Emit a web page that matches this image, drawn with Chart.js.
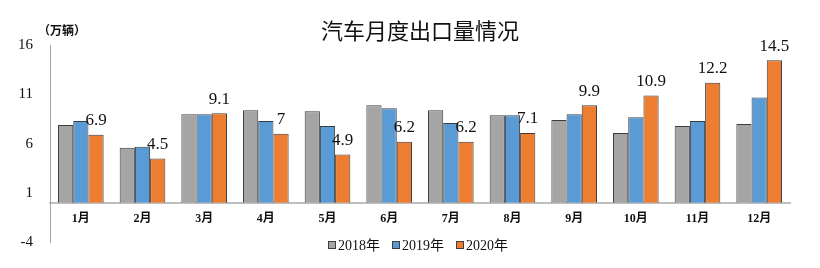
<!DOCTYPE html>
<html>
<head>
<meta charset="utf-8">
<script src="https://cdn.jsdelivr.net/npm/chart.js@4.4.0/dist/chart.umd.min.js"></script>
<style>
  html, body { margin: 0; padding: 0; background: #fff; }
</style>
</head>
<body>
<canvas id="myChart" width="820" height="268"></canvas>
<script>
// data (万辆)
const months = ["1月", "2月", "3月", "4月", "5月", "6月", "7月", "8月", "9月", "10月", "11月", "12月"];
const years = ["2018年", "2019年", "2020年"];
const export2018 = [7.9, 5.6, 9.0, 9.4, 9.3, 9.9, 9.4, 8.9, 8.4, 7.1, 7.8, 8.0];
const export2019 = [8.3, 5.7, 9.0, 8.3, 7.8, 9.6, 8.1, 8.9, 9.0, 8.7, 8.3, 10.7];
const export2020 = [6.9, 4.5, 9.1, 7, 4.9, 6.2, 6.2, 7.1, 9.9, 10.9, 12.2, 14.5];
const yTicks = [-4, 1, 6, 11, 16];

const serif = '"Liberation Serif", "Noto Sans CJK SC", serif';

// value labels on the 2020 bars
const valueLabels = {
  id: "valueLabels",
  afterDatasetsDraw(chart) {
    const ctx = chart.ctx;
    const meta = chart.getDatasetMeta(2);
    ctx.save();
    ctx.font = "17px " + serif;
    ctx.fillStyle = "#111";
    ctx.textAlign = "center";
    ctx.textBaseline = "middle";
    meta.data.forEach(function (bar, i) {
      ctx.fillText(String(export2020[i]), bar.x, bar.y - 14);
    });
    ctx.restore();
  }
};

// unit text + legend under the plot
const extras = {
  id: "extras",
  afterDraw(chart) {
    const ctx = chart.ctx;
    ctx.save();
    ctx.fillStyle = "#111";
    ctx.font = 'bold 12px "Noto Sans CJK SC"';
    ctx.textAlign = "left";
    ctx.textBaseline = "middle";
    ctx.fillText("（万辆）", 38, 30);

    ctx.font = "14px " + serif;
    const box = 8, gap = 2, space = 12;
    const items = chart.data.datasets.map(function (ds) {
      return { text: ds.label, color: ds.backgroundColor, w: box + gap + ctx.measureText(ds.label).width };
    });
    const total = items.reduce(function (s, it) { return s + it.w; }, 0) + space * (items.length - 1);
    let x = 418 - total / 2;
    const y = 245;
    items.forEach(function (it) {
      ctx.fillStyle = it.color;
      ctx.fillRect(x, y - box / 2, box, box);
      ctx.strokeStyle = "#404040";
      ctx.lineWidth = 1;
      ctx.strokeRect(x + 0.5, y - box / 2 + 0.5, box - 1, box - 1);
      ctx.fillStyle = "#111";
      ctx.fillText(it.text, x + box + gap, y + 1);
      x += it.w + space;
    });
    ctx.restore();
  }
};

const ctx = document.getElementById("myChart");
const myChart = new Chart(ctx, {
  type: "bar",
  data: {
    labels: months,
    datasets: [
      {
        label: years[0],
        data: export2018,
        backgroundColor: "#A5A5A5",
        borderColor: "#3d3d3d",
        borderWidth: 1,
      },
      {
        label: years[1],
        data: export2019,
        backgroundColor: "#5B9BD5",
        borderColor: "#3d3d3d",
        borderWidth: 1,
      },
      {
        label: years[2],
        data: export2020,
        backgroundColor: "#ED7D31",
        borderColor: "#3d3d3d",
        borderWidth: 1,
      },
    ],
  },
  plugins: [valueLabels, extras],
  options: {
    responsive: false,
    animation: false,
    categoryPercentage: 0.74,
    barPercentage: 1.0,
    layout: {
      padding: { left: 10, right: 30, top: 0, bottom: 24 }
    },
    plugins: {
      legend: { display: false },
      tooltip: { enabled: false },
      title: {
        display: true,
        fullSize: false,
        text: "汽车月度出口量情况",
        color: "#111",
        font: { family: '"Noto Sans CJK SC"', size: 22, weight: "normal" },
        padding: { top: 17, bottom: 2 }
      }
    },
    scales: {
      x: {
        position: { y: 0 },
        grid: { display: false, drawTicks: false },
        border: { display: true, color: "#BFBFBF", width: 2 },
        ticks: {
          color: "#111",
          padding: 9,
          font: { family: serif, size: 12, weight: "bold" }
        }
      },
      y: {
        min: -4,
        max: 16,
        afterBuildTicks: function (scale) {
          scale.ticks = yTicks.map(function (v) { return { value: v }; });
        },
        afterFit: function (scale) {
          scale.width = 40;
        },
        grid: { display: false, drawTicks: false },
        border: { display: true, color: "#A6A6A6", width: 1 },
        ticks: {
          color: "#111",
          padding: 17,
          font: { family: serif, size: 15 }
        }
      }
    }
  }
});
</script>
</body>
</html>
